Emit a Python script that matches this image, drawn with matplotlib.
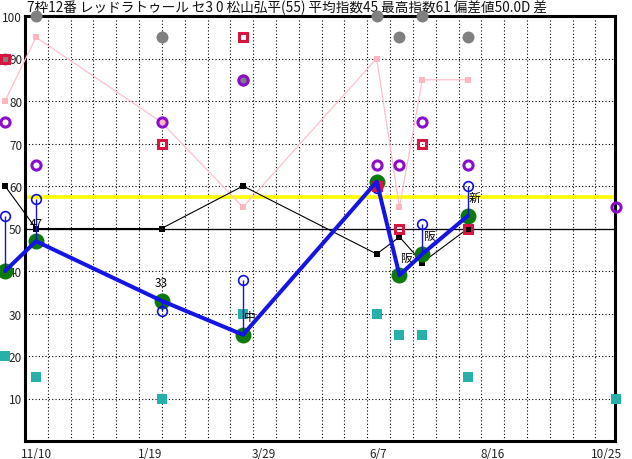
import matplotlib
matplotlib.use("Agg")
import matplotlib.pyplot as plt
import numpy as np
import pandas as pd

plt.rcParams['font.family'] = ['Noto Sans CJK JP', 'DejaVu Sans']

# ---------------- data ----------------
title = "7枠12番 レッドラトゥール セ3 0 松山弘平(55) 平均指数45 最高指数61 偏差値50.0D 差"
origin = pd.Timestamp("2023-11-10")
race_dates = ["2023-10-22", "2023-11-10", "2024-01-26", "2024-03-16",
              "2024-06-06", "2024-06-20", "2024-07-04", "2024-08-01"]
next_date = "2024-10-31"
index_vals = [40, 47, 33, 25, 61, 39, 44, 53]            # green / blue thick line
blue_circ = [53, 57, 30.5, 38, 59.5, np.nan, 51, 60]     # blue open circles
black_vals = [60, 50, 50, 60, 44, 48, 42, 50]            # black line
pink_vals = [80, 95, 75, 55, 90, 55, 85, 85]             # pink line
purple_vals = [75, 65, 75, 85, 65, 65, 75, 65]
purple_next = 55
red_vals = [90, np.nan, 70, 95, 60, 50, 70, 50]
gray_vals = [90, 100, 95, 85, 100, 95, 100, 95]
teal_vals = [20, 15, 10, 30, 30, 25, 25, 15]
teal_next = 10
point_labels = ["", "47", "33", "中", "", "阪", "阪", "新"]
avg_line = 57.5
base_line = 50
tick_dates = ["2023-11-10", "2024-01-19", "2024-03-29", "2024-06-07", "2024-08-16", "2024-10-25"]
tick_labels = ["11/10", "1/19", "3/29", "6/7", "8/16", "10/25"]
y_ticks = [10, 20, 30, 40, 50, 60, 70, 80, 90, 100]

def days(ds):
    return np.array([(pd.Timestamp(d) - origin).days for d in ds], dtype=float)

x = days(race_dates)
xn = days([next_date])[0]
xt = days(tick_dates)

# ---------------- figure ----------------
W, H = 632, 460
fig = plt.figure(figsize=(W / 100, H / 100), dpi=100)
ax = fig.add_axes([25 / W, 18 / H, 590 / W, 425 / H])
px_per_day = 1.63
xl = (25 - 36) / px_per_day
xr = (615 - 36) / px_per_day
ax.set_xlim(xl, xr)
ax.set_ylim(0, 100)

for s in ax.spines.values():
    s.set_linewidth(2.2)
    s.set_color("black")

ax.set_xticks(xt)
ax.set_xticklabels(tick_labels, fontsize=8.5, color="#222222")
ax.set_yticks(y_ticks)
ax.set_yticklabels([str(v) for v in y_ticks], fontsize=8.5, color="#222222")
ax.tick_params(axis="both", which="both", length=0)
ax.tick_params(axis="x", pad=4)
ax.tick_params(axis="y", pad=2)
ax.grid(False)
dot = dict(color="black", linewidth=0.8, linestyle=(0, (1, 2)), zorder=1)
for v in y_ticks[:-1]:
    ax.axhline(v, **dot)
for v in xl + 14 * np.arange(1, 26):
    ax.axvline(v, **dot)

ax.axhline(avg_line, color="#ffff00", linewidth=2.6, zorder=2)
ax.axhline(base_line, color="black", linewidth=0.9, zorder=2)

# pink line
ax.plot(x, pink_vals, color="#ffc0cb", linewidth=0.9, marker="s", markersize=4.3,
        markerfacecolor="#ffb6c1", markeredgewidth=0, zorder=3, clip_on=False)
# black line
ax.plot(x, black_vals, color="black", linewidth=0.8, marker="s", markersize=4.3,
        markeredgewidth=0, zorder=3.5, clip_on=False)
# gray circles
ax.plot(x, gray_vals, linestyle="none", marker="o", markersize=8.6, color="#808080",
        markeredgewidth=0, zorder=4, clip_on=False)
# teal squares
ax.plot(np.append(x, xn), teal_vals + [teal_next], linestyle="none", marker="s",
        markersize=6.5, color="#26b0aa", markeredgewidth=0, zorder=4.5, clip_on=False)
# green circles
ax.plot(x, index_vals, linestyle="none", marker="o", markersize=11.5, color="#0b7a0b",
        markeredgewidth=0, zorder=5, clip_on=False)
# blue vertical lines + open circles
bc = np.array(blue_circ)
iv = np.array(index_vals, dtype=float)
m = ~np.isnan(bc)
ax.vlines(x[m], bc[m], iv[m], color="#1010e0", linewidth=1.0, zorder=5.5, clip_on=False)
ax.plot(x[m], bc[m], linestyle="none", marker="o", markersize=7.0, markerfacecolor="none",
        markeredgecolor="#1010e0", markeredgewidth=1.2, zorder=5.6, clip_on=False)
# red squares
ax.plot(x, red_vals, linestyle="none", marker="s", markersize=6.0, markerfacecolor="none",
        markeredgecolor="#d81440", markeredgewidth=2.2, zorder=6, clip_on=False)
# purple circles
ax.plot(np.append(x, xn), purple_vals + [purple_next], linestyle="none", marker="o",
        markersize=6.6, markerfacecolor="none", markeredgecolor="#8c0ccc",
        markeredgewidth=2.2, zorder=6, clip_on=False)
# blue thick line
ax.plot(x, index_vals, color="#1414e6", linewidth=2.9, zorder=7, clip_on=False,
        solid_capstyle="round")

for xi, yi, lab in zip(x, index_vals, point_labels):
    if not lab:
        continue
    if lab.isdigit():
        ax.annotate(lab, (xi, yi), xytext=(0, 13), textcoords="offset points",
                    ha="center", va="center", fontsize=8.5, zorder=8)
    else:
        ax.annotate(lab, (xi, yi), xytext=(4.5, 13), textcoords="offset points",
                    ha="center", va="center", fontsize=8.5, zorder=8)

fig.text(27 / W, 1 - 8 / H, title, fontsize=9.8, va="center", ha="left", zorder=-1,
         color="#111111")

fig.savefig("out.png", dpi=100)
